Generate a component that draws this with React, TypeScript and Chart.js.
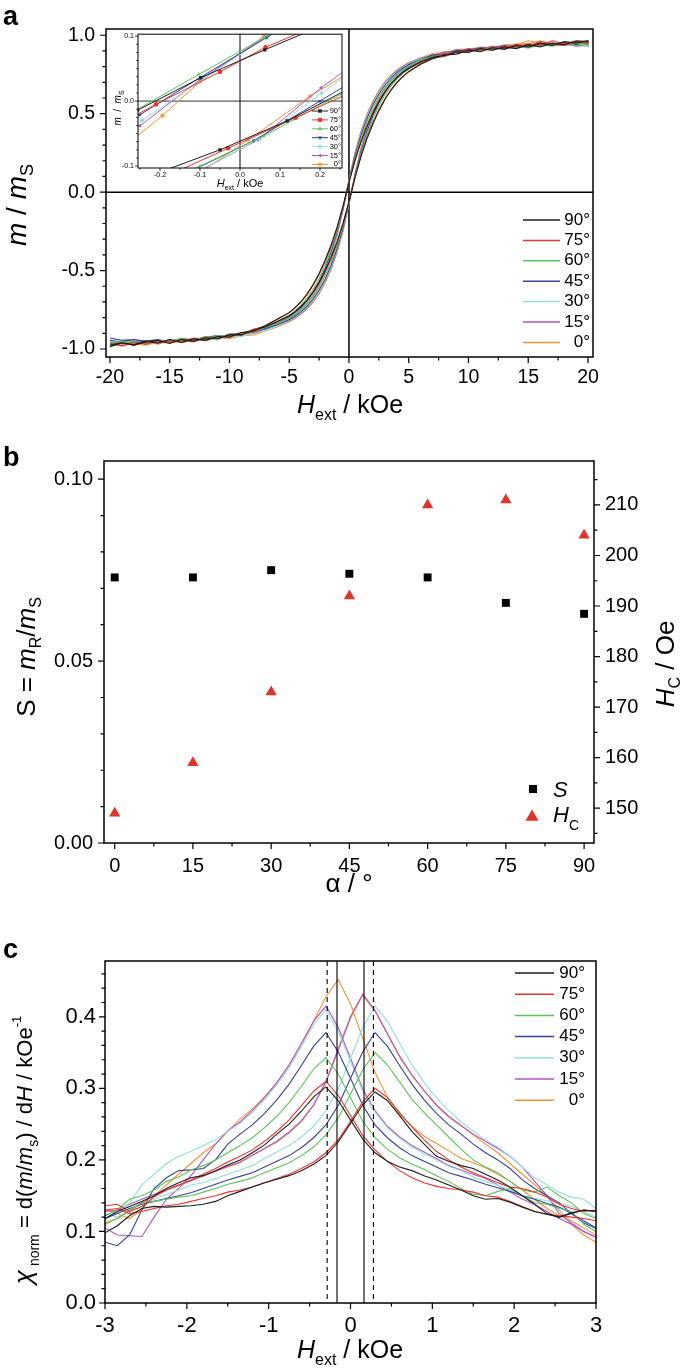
import { useEffect, useRef } from 'react';
import { Chart, registerables } from 'chart.js';
Chart.register(...registerables);

const FONT = '"Liberation Sans", Arial, Helvetica, sans-serif';

// ---------- shared series meta ----------
const ANGLE_LABELS = ['90°', '75°', '60°', '45°', '30°', '15°', '0°'];
const ANGLE_COLORS = ['#1e1e1e', '#e8352c', '#5cc35a', '#34449e', '#93dedd', '#b555c6', '#f49336'];
const INSET_MARKERS = ['rect', 'circle', 'triangle', 'triangleDown', 'rectRot', 'triangleLeft', 'star'];

// ---------- panel a: hysteresis loops ----------
const A_H = [-20, -19, -18, -17, -16, -15, -14, -13, -12, -11, -10, -9, -8, -7, -6, -5, -4.5, -4, -3.5, -3, -2.5, -2, -1.5, -1, -0.5, 0, 0.5, 1, 1.5, 2, 2.5, 3, 3.5, 4, 4.5, 5, 6, 7, 8, 9, 10, 11, 12, 13, 14, 15, 16, 17, 18, 19, 20];

const A_DESC_90 = [-0.975, -0.96, -0.972, -0.95, -0.962, -0.94, -0.958, -0.935, -0.945, -0.92, -0.925, -0.895, -0.885, -0.85, -0.81, -0.768, -0.736, -0.697, -0.648, -0.589, -0.518, -0.434, -0.338, -0.225, -0.09, 0.06, 0.2, 0.317, 0.416, 0.502, 0.576, 0.637, 0.688, 0.729, 0.762, 0.788, 0.83, 0.86, 0.87, 0.895, 0.89, 0.915, 0.905, 0.925, 0.915, 0.94, 0.925, 0.95, 0.94, 0.965, 0.96];
const A_ASC_90 = [-0.985, -0.962, -0.975, -0.955, -0.945, -0.965, -0.94, -0.95, -0.93, -0.935, -0.91, -0.91, -0.88, -0.86, -0.825, -0.788, -0.762, -0.729, -0.688, -0.637, -0.576, -0.502, -0.416, -0.317, -0.2, -0.06, 0.09, 0.225, 0.338, 0.434, 0.518, 0.589, 0.648, 0.697, 0.736, 0.768, 0.815, 0.85, 0.875, 0.88, 0.905, 0.895, 0.92, 0.91, 0.935, 0.925, 0.95, 0.935, 0.96, 0.95, 0.965];
const A_DESC_75 = [-0.965, -0.98, -0.955, -0.97, -0.945, -0.96, -0.94, -0.955, -0.925, -0.935, -0.91, -0.91, -0.875, -0.855, -0.81, -0.768, -0.736, -0.699, -0.653, -0.594, -0.525, -0.444, -0.348, -0.233, -0.093, 0.062, 0.207, 0.327, 0.426, 0.51, 0.581, 0.642, 0.691, 0.729, 0.762, 0.788, 0.835, 0.855, 0.885, 0.89, 0.91, 0.9, 0.925, 0.915, 0.94, 0.93, 0.96, 0.945, 0.935, 0.955, 0.96];
const A_ASC_75 = [-0.97, -0.96, -0.978, -0.95, -0.965, -0.945, -0.955, -0.93, -0.945, -0.92, -0.92, -0.895, -0.89, -0.855, -0.83, -0.788, -0.762, -0.729, -0.691, -0.642, -0.581, -0.51, -0.426, -0.327, -0.207, -0.062, 0.093, 0.233, 0.348, 0.444, 0.525, 0.594, 0.653, 0.699, 0.736, 0.768, 0.82, 0.855, 0.865, 0.89, 0.895, 0.915, 0.905, 0.93, 0.925, 0.945, 0.935, 0.965, 0.945, 0.96, 0.95];
const A_DESC_60 = [-0.955, -0.965, -0.95, -0.97, -0.945, -0.955, -0.93, -0.948, -0.92, -0.928, -0.905, -0.905, -0.875, -0.86, -0.825, -0.785, -0.756, -0.719, -0.675, -0.619, -0.55, -0.467, -0.366, -0.246, -0.099, 0.066, 0.219, 0.344, 0.448, 0.535, 0.606, 0.665, 0.711, 0.749, 0.78, 0.803, 0.845, 0.86, 0.885, 0.89, 0.905, 0.91, 0.925, 0.915, 0.93, 0.92, 0.94, 0.93, 0.945, 0.935, 0.94];
const A_ASC_60 = [-0.96, -0.95, -0.965, -0.955, -0.96, -0.94, -0.95, -0.935, -0.94, -0.915, -0.925, -0.9, -0.89, -0.865, -0.835, -0.803, -0.78, -0.749, -0.711, -0.665, -0.606, -0.535, -0.448, -0.344, -0.219, -0.066, 0.099, 0.246, 0.366, 0.467, 0.55, 0.619, 0.675, 0.719, 0.756, 0.785, 0.83, 0.865, 0.87, 0.895, 0.9, 0.915, 0.91, 0.925, 0.92, 0.935, 0.93, 0.94, 0.935, 0.95, 0.945];
const A_DESC_45 = [-0.93, -0.945, -0.94, -0.955, -0.945, -0.95, -0.935, -0.945, -0.92, -0.93, -0.905, -0.9, -0.88, -0.865, -0.835, -0.795, -0.768, -0.734, -0.69, -0.636, -0.57, -0.487, -0.384, -0.259, -0.105, 0.07, 0.231, 0.361, 0.468, 0.555, 0.624, 0.68, 0.726, 0.762, 0.79, 0.813, 0.845, 0.875, 0.88, 0.905, 0.905, 0.92, 0.915, 0.93, 0.93, 0.925, 0.945, 0.94, 0.955, 0.94, 0.955];
const A_ASC_45 = [-0.945, -0.955, -0.94, -0.95, -0.94, -0.955, -0.935, -0.94, -0.925, -0.915, -0.92, -0.9, -0.895, -0.87, -0.845, -0.813, -0.79, -0.762, -0.726, -0.68, -0.624, -0.555, -0.468, -0.361, -0.231, -0.07, 0.105, 0.259, 0.384, 0.487, 0.57, 0.636, 0.69, 0.734, 0.768, 0.795, 0.835, 0.865, 0.875, 0.9, 0.9, 0.915, 0.915, 0.935, 0.92, 0.94, 0.94, 0.945, 0.945, 0.96, 0.94];
const A_DESC_30 = [-0.975, -0.96, -0.965, -0.95, -0.965, -0.945, -0.955, -0.935, -0.94, -0.925, -0.925, -0.905, -0.9, -0.87, -0.85, -0.8, -0.773, -0.741, -0.7, -0.646, -0.58, -0.499, -0.397, -0.267, -0.108, 0.072, 0.238, 0.373, 0.481, 0.565, 0.634, 0.69, 0.734, 0.767, 0.795, 0.818, 0.85, 0.875, 0.88, 0.905, 0.9, 0.92, 0.91, 0.93, 0.925, 0.94, 0.935, 0.94, 0.935, 0.945, 0.93];
const A_ASC_30 = [-0.98, -0.965, -0.97, -0.955, -0.95, -0.96, -0.945, -0.95, -0.935, -0.94, -0.92, -0.92, -0.895, -0.885, -0.855, -0.818, -0.795, -0.767, -0.734, -0.69, -0.634, -0.565, -0.481, -0.373, -0.238, -0.072, 0.108, 0.267, 0.397, 0.499, 0.58, 0.646, 0.7, 0.741, 0.773, 0.8, 0.84, 0.86, 0.885, 0.89, 0.905, 0.905, 0.925, 0.915, 0.935, 0.92, 0.94, 0.935, 0.95, 0.935, 0.94];
const A_DESC_15 = [-0.955, -0.97, -0.95, -0.965, -0.945, -0.96, -0.94, -0.945, -0.925, -0.93, -0.91, -0.91, -0.885, -0.875, -0.845, -0.805, -0.778, -0.746, -0.705, -0.651, -0.585, -0.504, -0.402, -0.272, -0.111, 0.074, 0.243, 0.378, 0.486, 0.57, 0.639, 0.695, 0.739, 0.772, 0.8, 0.821, 0.855, 0.87, 0.895, 0.895, 0.915, 0.91, 0.93, 0.925, 0.94, 0.935, 0.95, 0.945, 0.945, 0.93, 0.935];
const A_ASC_15 = [-0.97, -0.955, -0.965, -0.95, -0.96, -0.945, -0.95, -0.94, -0.94, -0.925, -0.925, -0.905, -0.9, -0.87, -0.85, -0.821, -0.8, -0.772, -0.739, -0.695, -0.639, -0.57, -0.486, -0.378, -0.243, -0.074, 0.111, 0.272, 0.402, 0.504, 0.585, 0.651, 0.705, 0.746, 0.778, 0.805, 0.845, 0.875, 0.88, 0.9, 0.9, 0.92, 0.915, 0.93, 0.93, 0.94, 0.935, 0.95, 0.94, 0.945, 0.93];
const A_DESC_0 = [-0.98, -0.965, -0.97, -0.975, -0.955, -0.96, -0.945, -0.95, -0.935, -0.94, -0.92, -0.92, -0.895, -0.885, -0.855, -0.81, -0.783, -0.751, -0.712, -0.661, -0.595, -0.514, -0.412, -0.28, -0.114, 0.076, 0.25, 0.388, 0.496, 0.58, 0.649, 0.703, 0.744, 0.777, 0.805, 0.826, 0.855, 0.885, 0.89, 0.91, 0.91, 0.925, 0.92, 0.94, 0.94, 0.965, 0.95, 0.94, 0.955, 0.935, 0.945];
const A_ASC_0 = [-0.965, -0.98, -0.965, -0.955, -0.97, -0.95, -0.96, -0.945, -0.945, -0.93, -0.935, -0.915, -0.91, -0.885, -0.86, -0.826, -0.805, -0.777, -0.744, -0.703, -0.649, -0.58, -0.496, -0.388, -0.25, -0.076, 0.114, 0.28, 0.412, 0.514, 0.595, 0.661, 0.712, 0.751, 0.783, 0.81, 0.85, 0.865, 0.895, 0.895, 0.915, 0.915, 0.93, 0.925, 0.945, 0.945, 0.965, 0.945, 0.95, 0.94, 0.945];

const A_DESC = [A_DESC_90, A_DESC_75, A_DESC_60, A_DESC_45, A_DESC_30, A_DESC_15, A_DESC_0];
const A_ASC = [A_ASC_90, A_ASC_75, A_ASC_60, A_ASC_45, A_ASC_30, A_ASC_15, A_ASC_0];
const A_X_TICKS = [-20, -15, -10, -5, 0, 5, 10, 15, 20];
const A_Y_TICKS = [-1, -0.5, 0, 0.5, 1];

// ---------- panel a inset (H in kOe, m/mS) ----------
const INS_DESC_90 = [[-0.41, -0.063], [-0.256, -0.014], [-0.098, 0.036], [0.062, 0.079], [0.22, 0.12]];
const INS_DESC_75 = [[-0.37, -0.058], [-0.21, -0.005], [-0.05, 0.045], [0.064, 0.083], [0.225, 0.125]];
const INS_DESC_60 = [[-0.42, -0.075], [-0.26, -0.014], [-0.103, 0.041], [0.058, 0.097], [0.22, 0.15]];
const INS_DESC_45 = [[-0.41, -0.08], [-0.25, -0.021], [-0.098, 0.037], [0.067, 0.098], [0.22, 0.155]];
const INS_DESC_30 = [[-0.4, -0.09], [-0.245, -0.03], [-0.09, 0.035], [0.065, 0.098], [0.22, 0.16]];
const INS_DESC_15 = [[-0.4, -0.1], [-0.25, -0.038], [-0.1, 0.033], [0.062, 0.098], [0.22, 0.165]];
const INS_DESC_0 = [[-0.35, -0.1], [-0.194, -0.0225], [-0.1, 0.03], [0.06, 0.1], [0.22, 0.17]];
const INS_ASC_90 = [[-0.22, -0.114], [-0.05, -0.075], [0.118, -0.0305], [0.275, 0.02], [0.43, 0.06]];
const INS_ASC_75 = [[-0.2, -0.12], [-0.03, -0.0727], [0.139, -0.0256], [0.3, 0.02], [0.45, 0.06]];
const INS_ASC_60 = [[-0.26, -0.15], [-0.1, -0.1], [0.059, -0.054], [0.22, 0.0], [0.38, 0.05]];
const INS_ASC_45 = [[-0.29, -0.16], [-0.13, -0.11], [0.034, -0.061], [0.2, 0.0], [0.36, 0.06]];
const INS_ASC_30 = [[-0.27, -0.17], [-0.11, -0.11], [0.05, -0.058], [0.204, 0.0125], [0.36, 0.08]];
const INS_ASC_15 = [[-0.27, -0.17], [-0.11, -0.11], [0.045, -0.06], [0.203, 0.0206], [0.36, 0.09]];
const INS_ASC_0 = [[-0.26, -0.17], [-0.1, -0.11], [0.02, -0.06], [0.175, 0.0075], [0.33, 0.065]];
const INS_DESC = [INS_DESC_90, INS_DESC_75, INS_DESC_60, INS_DESC_45, INS_DESC_30, INS_DESC_15, INS_DESC_0];
const INS_ASC = [INS_ASC_90, INS_ASC_75, INS_ASC_60, INS_ASC_45, INS_ASC_30, INS_ASC_15, INS_ASC_0];
const INS_X_TICKS = [-0.2, -0.1, 0, 0.1, 0.2];
const INS_Y_TICKS = [-0.1, 0, 0.1];

// ---------- panel b ----------
const B_ALPHA = [0, 15, 30, 45, 60, 75, 90];
const B_S = [0.073, 0.073, 0.075, 0.074, 0.073, 0.066, 0.063];
const B_HC = [149, 159, 173, 192, 210, 211, 204];
const B_X_TICKS = [0, 15, 30, 45, 60, 75, 90];
const B_Y_TICKS = [0, 0.05, 0.1];
const B_Y2_TICKS = [150, 160, 170, 180, 190, 200, 210];

// ---------- panel c: susceptibility ----------
const C_H = [-3, -2.85, -2.7, -2.55, -2.4, -2.25, -2.1, -1.95, -1.8, -1.65, -1.5, -1.35, -1.2, -1.05, -0.9, -0.75, -0.6, -0.45, -0.3, -0.15, 0, 0.15, 0.3, 0.45, 0.6, 0.75, 0.9, 1.05, 1.2, 1.35, 1.5, 1.65, 1.8, 1.95, 2.1, 2.25, 2.4, 2.55, 2.7, 2.85, 3];
const C_L_90 = [0.118, 0.128, 0.135, 0.142, 0.15, 0.16, 0.168, 0.175, 0.178, 0.185, 0.193, 0.2, 0.21, 0.221, 0.236, 0.25, 0.268, 0.288, 0.302, 0.283, 0.256, 0.229, 0.21, 0.198, 0.19, 0.185, 0.178, 0.172, 0.165, 0.158, 0.15, 0.145, 0.146, 0.141, 0.134, 0.128, 0.124, 0.12, 0.125, 0.13, 0.128];
const C_R_90 = [0.098, 0.108, 0.122, 0.132, 0.135, 0.134, 0.135, 0.136, 0.138, 0.142, 0.15, 0.156, 0.162, 0.168, 0.173, 0.178, 0.185, 0.194, 0.206, 0.225, 0.251, 0.277, 0.295, 0.283, 0.262, 0.24, 0.222, 0.205, 0.198, 0.192, 0.188, 0.18, 0.172, 0.162, 0.15, 0.138, 0.125, 0.12, 0.126, 0.13, 0.128];
const C_L_75 = [0.136, 0.138, 0.128, 0.135, 0.148, 0.158, 0.165, 0.172, 0.18, 0.188, 0.197, 0.205, 0.214, 0.226, 0.24, 0.256, 0.276, 0.296, 0.31, 0.29, 0.262, 0.234, 0.214, 0.198, 0.185, 0.175, 0.168, 0.163, 0.16, 0.158, 0.155, 0.15, 0.148, 0.142, 0.135, 0.128, 0.124, 0.122, 0.12, 0.118, 0.115];
const C_R_75 = [0.13, 0.132, 0.125, 0.128, 0.132, 0.136, 0.138, 0.142, 0.146, 0.15, 0.155, 0.158, 0.162, 0.168, 0.174, 0.18, 0.188, 0.197, 0.21, 0.228, 0.254, 0.281, 0.3, 0.287, 0.266, 0.246, 0.228, 0.212, 0.2, 0.19, 0.182, 0.175, 0.168, 0.162, 0.16, 0.155, 0.148, 0.138, 0.132, 0.128, 0.13];
const C_L_60 = [0.122, 0.13, 0.145, 0.15, 0.158, 0.17, 0.176, 0.186, 0.192, 0.2, 0.21, 0.22, 0.231, 0.245, 0.261, 0.28, 0.303, 0.327, 0.343, 0.32, 0.287, 0.254, 0.231, 0.215, 0.203, 0.194, 0.187, 0.178, 0.17, 0.16, 0.152, 0.15, 0.156, 0.16, 0.15, 0.14, 0.138, 0.132, 0.128, 0.11, 0.1];
const C_R_60 = [0.11, 0.118, 0.13, 0.14, 0.142, 0.145, 0.148, 0.15, 0.155, 0.16, 0.166, 0.17, 0.175, 0.182, 0.189, 0.196, 0.206, 0.218, 0.235, 0.259, 0.292, 0.326, 0.35, 0.333, 0.309, 0.285, 0.266, 0.249, 0.232, 0.215, 0.2, 0.19, 0.182, 0.17, 0.158, 0.155, 0.162, 0.15, 0.14, 0.125, 0.118];
const C_L_45 = [0.085, 0.08, 0.095, 0.13, 0.16, 0.175, 0.185, 0.186, 0.188, 0.2, 0.222, 0.236, 0.249, 0.265, 0.284, 0.306, 0.332, 0.359, 0.378, 0.351, 0.314, 0.276, 0.249, 0.231, 0.217, 0.206, 0.198, 0.19, 0.182, 0.177, 0.172, 0.166, 0.161, 0.156, 0.15, 0.145, 0.139, 0.134, 0.125, 0.115, 0.105];
const C_R_45 = [0.118, 0.125, 0.132, 0.138, 0.142, 0.146, 0.15, 0.154, 0.16, 0.166, 0.172, 0.177, 0.182, 0.19, 0.198, 0.206, 0.217, 0.231, 0.249, 0.276, 0.314, 0.351, 0.378, 0.359, 0.332, 0.306, 0.284, 0.265, 0.249, 0.236, 0.222, 0.21, 0.2, 0.188, 0.172, 0.16, 0.15, 0.14, 0.125, 0.112, 0.104];
const C_L_30 = [0.118, 0.125, 0.14, 0.165, 0.18, 0.195, 0.205, 0.212, 0.22, 0.228, 0.24, 0.251, 0.266, 0.284, 0.305, 0.329, 0.359, 0.389, 0.41, 0.38, 0.338, 0.296, 0.266, 0.245, 0.23, 0.218, 0.209, 0.2, 0.191, 0.185, 0.176, 0.17, 0.165, 0.158, 0.15, 0.146, 0.143, 0.14, 0.135, 0.128, 0.12];
const C_R_30 = [0.125, 0.12, 0.128, 0.135, 0.145, 0.152, 0.158, 0.165, 0.168, 0.174, 0.18, 0.186, 0.192, 0.202, 0.211, 0.22, 0.232, 0.247, 0.269, 0.299, 0.342, 0.385, 0.415, 0.394, 0.363, 0.333, 0.308, 0.287, 0.269, 0.253, 0.24, 0.228, 0.218, 0.205, 0.19, 0.175, 0.165, 0.155, 0.148, 0.145, 0.132];
const C_L_15 = [0.105, 0.095, 0.094, 0.093, 0.12, 0.145, 0.16, 0.178, 0.2, 0.222, 0.241, 0.253, 0.269, 0.287, 0.308, 0.333, 0.363, 0.394, 0.415, 0.385, 0.342, 0.299, 0.269, 0.247, 0.232, 0.22, 0.211, 0.202, 0.192, 0.186, 0.18, 0.174, 0.165, 0.155, 0.145, 0.138, 0.128, 0.118, 0.11, 0.1, 0.092];
const C_R_15 = [0.128, 0.13, 0.138, 0.145, 0.152, 0.158, 0.165, 0.171, 0.178, 0.184, 0.191, 0.197, 0.207, 0.216, 0.226, 0.239, 0.255, 0.277, 0.31, 0.355, 0.4, 0.432, 0.409, 0.377, 0.345, 0.319, 0.297, 0.277, 0.261, 0.248, 0.236, 0.226, 0.216, 0.205, 0.19, 0.17, 0.15, 0.125, 0.112, 0.1, 0.092];
const C_L_0 = [0.13, 0.125, 0.118, 0.13, 0.15, 0.165, 0.18, 0.195, 0.21, 0.222, 0.24, 0.257, 0.271, 0.288, 0.308, 0.332, 0.36, 0.394, 0.428, 0.452, 0.418, 0.37, 0.322, 0.288, 0.264, 0.247, 0.233, 0.223, 0.213, 0.202, 0.196, 0.189, 0.18, 0.17, 0.158, 0.145, 0.132, 0.122, 0.115, 0.105, 0.095];
const C_R_0 = [0.112, 0.118, 0.128, 0.14, 0.15, 0.158, 0.164, 0.171, 0.177, 0.184, 0.19, 0.196, 0.206, 0.216, 0.225, 0.238, 0.254, 0.276, 0.308, 0.353, 0.398, 0.43, 0.408, 0.376, 0.344, 0.318, 0.296, 0.276, 0.26, 0.248, 0.235, 0.222, 0.21, 0.195, 0.18, 0.165, 0.15, 0.13, 0.11, 0.095, 0.085];
const C_L = [C_L_90, C_L_75, C_L_60, C_L_45, C_L_30, C_L_15, C_L_0];
const C_R = [C_R_90, C_R_75, C_R_60, C_R_45, C_R_30, C_R_15, C_R_0];
const C_SOLID_LINES = [-0.165, 0.165];
const C_DASHED_LINES = [-0.285, 0.28];
const C_X_TICKS = [-3, -2, -1, 0, 1, 2, 3];
const C_Y_TICKS = [0, 0.1, 0.2, 0.3, 0.4];

// ---------- drawing helpers ----------
type Run = { t: string; s: number; i?: boolean; b?: boolean; dy?: number };
const fontOf = (r: Run) => `${r.i ? 'italic ' : ''}${r.b ? 'bold ' : ''}${r.s}px ${FONT}`;

function drawRuns(ctx: CanvasRenderingContext2D, runs: Run[], x: number, y: number, rot = 0, align: 'left' | 'center' | 'right' = 'center') {
  ctx.save();
  ctx.translate(x, y);
  if (rot) ctx.rotate(rot);
  let w = 0;
  for (const r of runs) { ctx.font = fontOf(r); w += ctx.measureText(r.t).width; }
  let cx = align === 'left' ? 0 : align === 'right' ? -w : -w / 2;
  ctx.fillStyle = '#000';
  ctx.textAlign = 'left';
  ctx.textBaseline = 'alphabetic';
  for (const r of runs) {
    ctx.font = fontOf(r);
    ctx.fillText(r.t, cx, r.dy || 0);
    cx += ctx.measureText(r.t).width;
  }
  ctx.restore();
}

function drawTicks(ctx: CanvasRenderingContext2D, scale: any, area: any, side: string, majors: number[], minorStep: number, majLen: number, minLen: number, lw = 1.2) {
  const list: [number, number][] = majors.map((v) => [v, majLen]);
  if (minorStep) {
    const k0 = Math.ceil(scale.min / minorStep - 1e-6);
    const k1 = Math.floor(scale.max / minorStep + 1e-6);
    for (let k = k0; k <= k1; k++) {
      const v = k * minorStep;
      if (!majors.some((m) => Math.abs(m - v) < minorStep * 0.01)) list.push([v, minLen]);
    }
  }
  ctx.save();
  ctx.strokeStyle = '#000';
  ctx.lineWidth = lw;
  ctx.beginPath();
  for (const [v, len] of list) {
    const p = scale.getPixelForValue(v);
    if (side === 'left') { ctx.moveTo(area.left, p); ctx.lineTo(area.left - len, p); }
    else if (side === 'right') { ctx.moveTo(area.right, p); ctx.lineTo(area.right + len, p); }
    else { ctx.moveTo(p, area.bottom); ctx.lineTo(p, area.bottom + len); }
  }
  ctx.stroke();
  ctx.restore();
}

function drawFrame(ctx: CanvasRenderingContext2D, a: any, lw = 1.5) {
  ctx.save();
  ctx.strokeStyle = '#000';
  ctx.lineWidth = lw;
  ctx.strokeRect(a.left, a.top, a.right - a.left, a.bottom - a.top);
  ctx.restore();
}

function drawLineLegend(ctx: CanvasRenderingContext2D, x0: number, x1: number, xText: number, y0: number, dy: number, size: number) {
  ctx.save();
  ANGLE_LABELS.forEach((lab, i) => {
    const y = y0 + i * dy;
    ctx.strokeStyle = ANGLE_COLORS[i];
    ctx.lineWidth = 1.5;
    ctx.beginPath();
    ctx.moveTo(x0, y);
    ctx.lineTo(x1, y);
    ctx.stroke();
    ctx.fillStyle = '#000';
    ctx.font = `${size}px ${FONT}`;
    ctx.textAlign = 'right';
    ctx.textBaseline = 'middle';
    ctx.fillText(lab, xText, y);
  });
  ctx.restore();
}

function drawMarker(ctx: CanvasRenderingContext2D, kind: string, x: number, y: number, r: number, color: string) {
  ctx.save();
  ctx.fillStyle = color;
  ctx.strokeStyle = color;
  ctx.lineWidth = 1;
  ctx.beginPath();
  if (kind === 'rect') { ctx.rect(x - r * 0.75, y - r * 0.75, r * 1.5, r * 1.5); ctx.fill(); }
  else if (kind === 'circle') { ctx.arc(x, y, r, 0, Math.PI * 2); ctx.fill(); }
  else if (kind === 'triangle') { ctx.moveTo(x, y - r); ctx.lineTo(x + 0.866 * r, y + 0.5 * r); ctx.lineTo(x - 0.866 * r, y + 0.5 * r); ctx.closePath(); ctx.fill(); }
  else if (kind === 'triangleDown') { ctx.moveTo(x, y + r); ctx.lineTo(x + 0.866 * r, y - 0.5 * r); ctx.lineTo(x - 0.866 * r, y - 0.5 * r); ctx.closePath(); ctx.fill(); }
  else if (kind === 'triangleLeft') { ctx.moveTo(x - r, y); ctx.lineTo(x + 0.5 * r, y - 0.866 * r); ctx.lineTo(x + 0.5 * r, y + 0.866 * r); ctx.closePath(); ctx.fill(); }
  else if (kind === 'rectRot') { ctx.moveTo(x, y - r); ctx.lineTo(x + r, y); ctx.lineTo(x, y + r); ctx.lineTo(x - r, y); ctx.closePath(); ctx.fill(); }
  else {
    for (let k = 0; k < 3; k++) {
      const an = (k * Math.PI) / 3 + Math.PI / 2;
      ctx.moveTo(x + Math.cos(an) * r, y + Math.sin(an) * r);
      ctx.lineTo(x - Math.cos(an) * r, y - Math.sin(an) * r);
    }
    ctx.stroke();
  }
  ctx.restore();
}

function chartPointStyle(kind: string) {
  if (kind === 'triangleDown') return { pointStyle: 'triangle', pointRotation: 180 };
  if (kind === 'triangleLeft') return { pointStyle: 'triangle', pointRotation: 270 };
  return { pointStyle: kind, pointRotation: 0 };
}

function linScale(position: string, min: number, max: number, ticks: number[], fmt: (v: number) => string, size: number, pad: number, fit: (s: any) => void) {
  return {
    type: 'linear',
    position,
    min,
    max,
    afterBuildTicks: (s: any) => { s.ticks = ticks.map((v) => ({ value: v })); },
    afterFit: fit,
    grid: { display: false, drawTicks: false },
    border: { display: false },
    ticks: {
      autoSkip: false,
      maxRotation: 0,
      minRotation: 0,
      padding: pad,
      color: '#000',
      font: { family: FONT, size },
      callback: (v: any) => fmt(Number(v)),
    },
  };
}

const baseOptions = (padding: any) => ({
  responsive: false,
  maintainAspectRatio: false,
  animation: false,
  events: [],
  layout: { padding },
  plugins: { legend: { display: false }, tooltip: { enabled: false }, title: { display: false } },
});

const X_TITLE: Run[] = [{ t: 'H', s: 25, i: true }, { t: 'ext', s: 16, dy: 7 }, { t: ' / kOe', s: 25 }];

export default function App() {
  const refA = useRef<HTMLCanvasElement>(null);
  const refI = useRef<HTMLCanvasElement>(null);
  const refB = useRef<HTMLCanvasElement>(null);
  const refC = useRef<HTMLCanvasElement>(null);

  useEffect(() => {
    const charts: Chart[] = [];

    // ----- panel a -----
    const decoA = {
      id: 'decoA',
      beforeDatasetsDraw(chart: any) {
        const { ctx, chartArea: a, scales } = chart;
        const x0 = scales.x.getPixelForValue(0);
        const y0 = scales.y.getPixelForValue(0);
        ctx.save();
        ctx.strokeStyle = '#000';
        ctx.lineWidth = 1.5;
        ctx.beginPath();
        ctx.moveTo(a.left, y0); ctx.lineTo(a.right, y0);
        ctx.moveTo(x0, a.top); ctx.lineTo(x0, a.bottom);
        ctx.stroke();
        ctx.restore();
      },
      afterDraw(chart: any) {
        const { ctx, chartArea: a, scales } = chart;
        drawFrame(ctx, a);
        drawTicks(ctx, scales.y, a, 'left', A_Y_TICKS, 0.1, 6, 3.5);
        drawTicks(ctx, scales.x, a, 'bottom', A_X_TICKS, 2.5, 6, 3.5);
        drawLineLegend(ctx, 523, 560, 590, 220, 20.4, 17);
        drawRuns(ctx, [{ t: 'm', s: 28, i: true }, { t: ' / ', s: 28 }, { t: 'm', s: 28, i: true }, { t: 'S', s: 18, dy: 7 }], 26, 205, -Math.PI / 2);
        drawRuns(ctx, X_TITLE, 350, 413);
        drawRuns(ctx, [{ t: 'a', s: 27, b: true }], 3, 25, 0, 'left');
      },
    };
    charts.push(new Chart(refA.current as any, {
      type: 'scatter',
      data: {
        datasets: ANGLE_LABELS.map((lab, i) => ({
          label: lab,
          data: [
            ...A_H.map((h, k) => ({ x: h, y: A_ASC[i][k] })),
            ...A_H.map((h, k) => ({ x: h, y: A_DESC[i][k] })).reverse(),
          ],
          showLine: true,
          borderColor: ANGLE_COLORS[i],
          backgroundColor: ANGLE_COLORS[i],
          borderWidth: 1.1,
          pointRadius: 0,
          tension: 0,
        })),
      },
      options: {
        ...baseOptions({ left: 0, right: 92, top: 29, bottom: 0 }),
        scales: {
          x: linScale('bottom', -20.33, 20.42, A_X_TICKS, (v) => String(v), 19.5, 9, (s) => { s.height = 73; }),
          y: linScale('left', -1.051, 1.04, A_Y_TICKS, (v) => v.toFixed(1), 19.5, 11, (s) => { s.width = 106; }),
        },
      } as any,
      plugins: [decoA],
    } as any));

    // ----- inset -----
    const decoI = {
      id: 'decoI',
      beforeDatasetsDraw(chart: any) {
        const { ctx, chartArea: a, scales } = chart;
        const x0 = scales.x.getPixelForValue(0);
        const y0 = scales.y.getPixelForValue(0);
        ctx.save();
        ctx.strokeStyle = '#8a8a8a';
        ctx.lineWidth = 1.6;
        ctx.beginPath(); ctx.moveTo(a.left, y0); ctx.lineTo(a.right, y0); ctx.stroke();
        ctx.strokeStyle = '#000';
        ctx.lineWidth = 1;
        ctx.beginPath(); ctx.moveTo(x0, a.top); ctx.lineTo(x0, a.bottom); ctx.stroke();
        ctx.restore();
      },
      afterDraw(chart: any) {
        const { ctx, chartArea: a, scales } = chart;
        drawFrame(ctx, a, 1);
        drawTicks(ctx, scales.y, a, 'left', INS_Y_TICKS, 0.0125, 3, 1.8, 0.8);
        drawTicks(ctx, scales.x, a, 'bottom', INS_X_TICKS, 0.05, 3, 1.8, 0.8);
        ANGLE_LABELS.forEach((lab, i) => {
          const y = 85 + i * 8.9;
          ctx.save();
          ctx.strokeStyle = ANGLE_COLORS[i];
          ctx.lineWidth = 1;
          ctx.beginPath(); ctx.moveTo(212, y); ctx.lineTo(228, y); ctx.stroke();
          ctx.restore();
          drawMarker(ctx, INSET_MARKERS[i], 220, y, 2.3, ANGLE_COLORS[i]);
          ctx.save();
          ctx.fillStyle = '#000';
          ctx.font = `7.5px ${FONT}`;
          ctx.textAlign = 'right';
          ctx.textBaseline = 'middle';
          ctx.fillText(lab, 241, y);
          ctx.restore();
        });
        drawRuns(ctx, [{ t: 'H', s: 11, i: true }, { t: 'ext', s: 7, dy: 3 }, { t: ' / kOe', s: 11 }], 140, 161);
        drawRuns(ctx, [{ t: 'm', s: 10, i: true }, { t: '  /  ', s: 10 }, { t: 'm', s: 10, i: true }, { t: 'S', s: 7, dy: 3 }], 21, 82, -Math.PI / 2);
      },
    };
    const insetSets: any[] = [];
    ANGLE_LABELS.forEach((lab, i) => {
      const ps = chartPointStyle(INSET_MARKERS[i]);
      [INS_DESC[i], INS_ASC[i]].forEach((branch) => {
        insetSets.push({
          label: lab,
          data: branch.map((p) => ({ x: p[0], y: p[1] })),
          showLine: true,
          borderColor: ANGLE_COLORS[i],
          backgroundColor: ANGLE_COLORS[i],
          borderWidth: 1,
          pointRadius: 2.3,
          pointBorderWidth: INSET_MARKERS[i] === 'star' ? 1 : 0,
          pointBorderColor: ANGLE_COLORS[i],
          pointBackgroundColor: ANGLE_COLORS[i],
          ...ps,
        });
      });
    });
    charts.push(new Chart(refI.current as any, {
      type: 'scatter',
      data: { datasets: insetSets },
      options: {
        ...baseOptions({ left: 0, right: 8, top: 5, bottom: 0 }),
        scales: {
          x: linScale('bottom', -0.255, 0.255, INS_X_TICKS, (v) => v.toFixed(1), 7, 3, (s) => { s.height = 26; }),
          y: linScale('left', -0.103, 0.103, INS_Y_TICKS, (v) => v.toFixed(1), 7, 4, (s) => { s.width = 38; }),
        },
      } as any,
      plugins: [decoI],
    } as any));

    // ----- panel b -----
    const decoB = {
      id: 'decoB',
      afterDraw(chart: any) {
        const { ctx, chartArea: a, scales } = chart;
        drawFrame(ctx, a);
        drawTicks(ctx, scales.y, a, 'left', B_Y_TICKS, 0.01, 6, 3.5);
        drawTicks(ctx, scales.y2, a, 'right', B_Y2_TICKS, 5, 6, 3.5);
        drawTicks(ctx, scales.x, a, 'bottom', B_X_TICKS, 7.5, 6, 3.5);
        drawMarker(ctx, 'rect', 533, 359, 5.4, '#000');
        drawMarker(ctx, 'triangle', 532, 387, 7.5, '#e0342a');
        drawRuns(ctx, [{ t: 'S', s: 22, i: true }], 553, 367, 0, 'left');
        drawRuns(ctx, [{ t: 'H', s: 22, i: true }, { t: 'C', s: 14, dy: 8 }], 553, 392, 0, 'left');
        drawRuns(ctx, [{ t: 'α / °', s: 26 }], 349, 462);
        drawRuns(ctx, [{ t: 'S', s: 26 }, { t: ' = ', s: 26 }, { t: 'm', s: 26, i: true }, { t: 'R', s: 16, dy: 6 }, { t: '/', s: 26 }, { t: 'm', s: 26, i: true }, { t: 'S', s: 16, dy: 6 }], 35, 227, -Math.PI / 2);
        drawRuns(ctx, [{ t: 'H', s: 26, i: true }, { t: 'C', s: 16, dy: 6 }, { t: ' / Oe', s: 26 }], 674, 234, -Math.PI / 2);
        drawRuns(ctx, [{ t: 'b', s: 27, b: true }], 3, 36, 0, 'left');
      },
    };
    charts.push(new Chart(refB.current as any, {
      type: 'scatter',
      data: {
        datasets: [
          {
            label: 'S',
            data: B_ALPHA.map((a, k) => ({ x: a, y: B_S[k] })),
            yAxisID: 'y',
            pointStyle: 'rect',
            pointRadius: 5.6,
            pointBorderWidth: 0,
            backgroundColor: '#000',
            borderColor: '#000',
          },
          {
            label: 'HC',
            data: B_ALPHA.map((a, k) => ({ x: a, y: B_HC[k] })),
            yAxisID: 'y2',
            pointStyle: 'triangle',
            pointRadius: 6.5,
            pointBorderWidth: 0,
            backgroundColor: '#e0342a',
            borderColor: '#e0342a',
          },
        ],
      },
      options: {
        ...baseOptions({ left: 0, right: 0, top: 31, bottom: 0 }),
        scales: {
          x: linScale('bottom', -2.05, 91.9, B_X_TICKS, (v) => String(v), 20, 11, (s) => { s.height = 62; }),
          y: linScale('left', 0, 0.105, B_Y_TICKS, (v) => v.toFixed(2), 20, 11, (s) => { s.width = 104; }),
          y2: linScale('right', 143.1, 218.7, B_Y2_TICKS, (v) => String(v), 20, 11, (s) => { s.width = 91; }),
        },
      } as any,
      plugins: [decoB],
    } as any));

    // ----- panel c -----
    const decoC = {
      id: 'decoC',
      afterDatasetsDraw(chart: any) {
        const { ctx, chartArea: a, scales } = chart;
        ctx.save();
        ctx.strokeStyle = '#000';
        ctx.lineWidth = 1.1;
        C_SOLID_LINES.forEach((h) => {
          const x = scales.x.getPixelForValue(h);
          ctx.beginPath(); ctx.moveTo(x, a.top); ctx.lineTo(x, a.bottom); ctx.stroke();
        });
        ctx.setLineDash([5, 4]);
        C_DASHED_LINES.forEach((h) => {
          const x = scales.x.getPixelForValue(h);
          ctx.beginPath(); ctx.moveTo(x, a.top); ctx.lineTo(x, a.bottom); ctx.stroke();
        });
        ctx.restore();
      },
      afterDraw(chart: any) {
        const { ctx, chartArea: a, scales } = chart;
        drawFrame(ctx, a);
        drawTicks(ctx, scales.y, a, 'left', C_Y_TICKS, 0.02, 6, 3.5);
        drawTicks(ctx, scales.x, a, 'bottom', C_X_TICKS, 0.5, 6, 3.5);
        drawLineLegend(ctx, 515, 554, 585, 68, 21.2, 17);
        drawRuns(ctx, [
          { t: 'χ', s: 26, i: true }, { t: ' norm', s: 14, dy: 7 }, { t: ' = d(', s: 22 }, { t: 'm', s: 22, i: true },
          { t: '/', s: 22 }, { t: 'm', s: 22, i: true }, { t: 's', s: 14, dy: 6 }, { t: ') / d', s: 22 },
          { t: 'H', s: 22, i: true }, { t: ' / kOe', s: 22 }, { t: '-1', s: 13, dy: -11 },
        ], 32, 245, -Math.PI / 2);
        drawRuns(ctx, X_TITLE, 350, 453);
        drawRuns(ctx, [{ t: 'c', s: 27, b: true }], 3, 53, 0, 'left');
      },
    };
    const cSets: any[] = [];
    ANGLE_LABELS.forEach((lab, i) => {
      [C_L[i], C_R[i]].forEach((vals) => {
        cSets.push({
          label: lab,
          data: C_H.map((h, k) => ({ x: h, y: vals[k] })),
          showLine: true,
          borderColor: ANGLE_COLORS[i],
          backgroundColor: ANGLE_COLORS[i],
          borderWidth: 1.1,
          pointRadius: 0,
          tension: 0,
        });
      });
    });
    charts.push(new Chart(refC.current as any, {
      type: 'scatter',
      data: { datasets: cSets },
      options: {
        ...baseOptions({ left: 0, right: 89, top: 56, bottom: 0 }),
        scales: {
          x: linScale('bottom', -3, 3, C_X_TICKS, (v) => String(v), 22, 10, (s) => { s.height = 68; }),
          y: linScale('left', 0, 0.478, C_Y_TICKS, (v) => v.toFixed(1), 22, 9, (s) => { s.width = 105; }),
        },
      } as any,
      plugins: [decoC],
    } as any));

    return () => { charts.forEach((c) => c.destroy()); };
  }, []);

  const cv = (left: number, top: number, w: number, h: number) => ({ position: 'absolute' as const, left, top, width: w, height: h });
  return (
    <div style={{ position: 'absolute', left: 0, top: 0, width: 685, height: 1371, background: '#fff', overflow: 'hidden' }}>
      <canvas ref={refA} width={685} height={430} style={cv(0, 0, 685, 430)} />
      <canvas ref={refI} width={250} height={168} style={cv(100, 26, 250, 168)} />
      <canvas ref={refB} width={685} height={475} style={cv(0, 430, 685, 475)} />
      <canvas ref={refC} width={685} height={466} style={cv(0, 905, 685, 466)} />
    </div>
  );
}
